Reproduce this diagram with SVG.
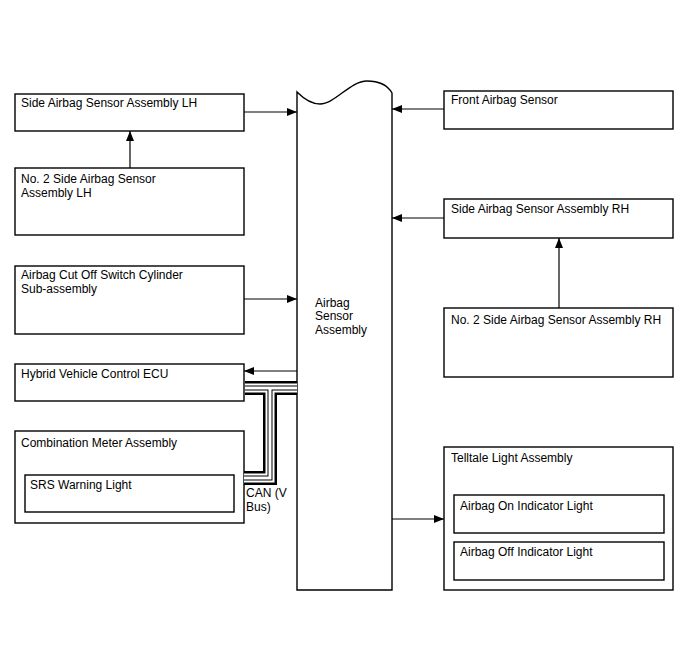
<svg xmlns="http://www.w3.org/2000/svg" width="688" height="658" viewBox="0 0 688 658">
<style>
.box{fill:#fff;stroke:#000;stroke-width:1.4}
.t{font-family:"Liberation Sans",Arial,sans-serif;font-size:12px;fill:#000}
.ln{fill:none;stroke:#000;stroke-width:1.2}
.b1{fill:none;stroke:#000;stroke-width:14;stroke-linejoin:miter}
.b2{fill:none;stroke:#fff;stroke-width:9;stroke-linejoin:miter}
.b3{fill:none;stroke:#000;stroke-width:5;stroke-linejoin:miter}
.b4{fill:none;stroke:#fff;stroke-width:3;stroke-linejoin:miter}
</style>
<defs>
<marker id="ah" viewBox="0 0 10 8" refX="10" refY="4" markerWidth="10" markerHeight="8" markerUnits="userSpaceOnUse" orient="auto">
<path d="M0,0 L10,4 L0,8 Z" fill="#000"/>
</marker>
<path id="bus" d="M245,388 H297 M270,388 V478 H244"/>
</defs>
<rect width="688" height="658" fill="#fff"/>

<g id="central">
<path class="box" d="M297,92 C305,100 312,104 320,104 C335,104 350,81 367,81 C380,81 388,86 392,93 L392,590 L297,590 Z"/>
<text class="t" x="315" y="307">Airbag</text>
<text class="t" x="315" y="320">Sensor</text>
<text class="t" x="315" y="334">Assembly</text>
</g>

<g id="side-lh">
<rect class="box" x="15" y="94" width="229" height="37"/>
<text class="t" x="21" y="107">Side Airbag Sensor Assembly LH</text>
</g>
<g id="no2-side-lh">
<rect class="box" x="15" y="168" width="229" height="67"/>
<text class="t" x="21" y="183">No. 2 Side Airbag Sensor</text>
<text class="t" x="21" y="197">Assembly LH</text>
</g>
<g id="cutoff">
<rect class="box" x="15" y="266" width="229" height="68"/>
<text class="t" x="21" y="279">Airbag Cut Off Switch Cylinder</text>
<text class="t" x="21" y="293">Sub-assembly</text>
</g>
<g id="hv-ecu">
<rect class="box" x="15" y="364" width="229" height="37"/>
<text class="t" x="21" y="378">Hybrid Vehicle Control ECU</text>
</g>
<g id="meter">
<rect class="box" x="15" y="431" width="229" height="92"/>
<text class="t" x="21" y="447">Combination Meter Assembly</text>
<rect class="box" x="25" y="475" width="209" height="37"/>
<text class="t" x="30" y="489">SRS Warning Light</text>
</g>

<g id="front">
<rect class="box" x="444" y="91" width="229" height="38"/>
<text class="t" x="451" y="104">Front Airbag Sensor</text>
</g>
<g id="side-rh">
<rect class="box" x="444" y="199" width="229" height="39"/>
<text class="t" x="451" y="213">Side Airbag Sensor Assembly RH</text>
</g>
<g id="no2-side-rh">
<rect class="box" x="444" y="308" width="229" height="69"/>
<text class="t" x="451" y="324">No. 2 Side Airbag Sensor Assembly RH</text>
</g>
<g id="telltale">
<rect class="box" x="444" y="447" width="229" height="143"/>
<text class="t" x="451" y="462">Telltale Light Assembly</text>
<rect class="box" x="454" y="495" width="210" height="38"/>
<text class="t" x="460" y="510">Airbag On Indicator Light</text>
<rect class="box" x="454" y="542" width="210" height="38"/>
<text class="t" x="460" y="556">Airbag Off Indicator Light</text>
</g>

<g id="connectors">
<path class="ln" d="M244,112 H297" marker-end="url(#ah)"/>
<path class="ln" d="M130,168 V131" marker-end="url(#ah)"/>
<path class="ln" d="M244,299 H297" marker-end="url(#ah)"/>
<path class="ln" d="M297,371 H244" marker-end="url(#ah)"/>
<path class="ln" d="M444,109 H392" marker-end="url(#ah)"/>
<path class="ln" d="M444,218 H392" marker-end="url(#ah)"/>
<path class="ln" d="M559,308 V238" marker-end="url(#ah)"/>
<path class="ln" d="M392,519 H444" marker-end="url(#ah)"/>
<g id="can-bus">
<use href="#bus" class="b1"/>
<use href="#bus" class="b2"/>
<use href="#bus" class="b3"/>
<use href="#bus" class="b4"/>
</g>
<text class="t" x="246" y="497">CAN (V</text>
<text class="t" x="246" y="511">Bus)</text>
</g>
</svg>
